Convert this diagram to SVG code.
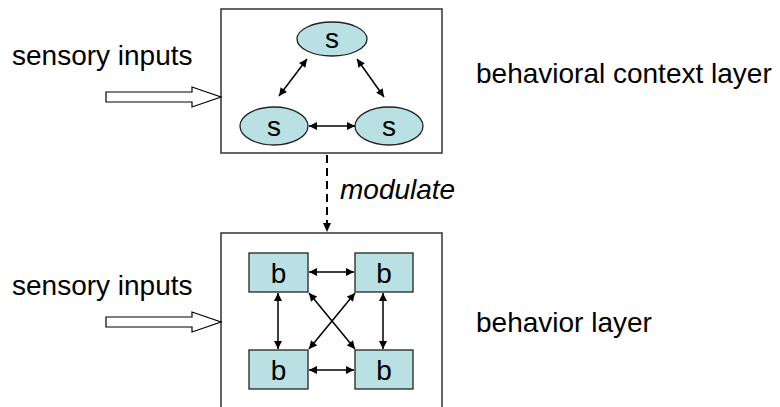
<svg xmlns="http://www.w3.org/2000/svg" width="780" height="407" viewBox="0 0 780 407">
<defs>
<marker id="ah" viewBox="0 0 10 10" refX="10" refY="5" markerWidth="9" markerHeight="8" markerUnits="userSpaceOnUse" orient="auto-start-reverse">
<path d="M0,0 L10,5 L0,10 z" fill="#000"/>
</marker>
<style>
.lbl{font-family:"Liberation Sans",Arial,sans-serif;font-size:28px;fill:#000}
.box{fill:#fff;stroke:#333;stroke-width:1.5}
.node{fill:#B9E0E3;stroke:#222;stroke-width:1.3}
.conn{stroke:#000;stroke-width:1.5;fill:none;marker-start:url(#ah);marker-end:url(#ah)}
.blk{fill:#fff;stroke:#000;stroke-width:1.2}
</style>
</defs>
<rect width="780" height="407" fill="#fff"/>
<g id="context-layer">
<rect class="box" x="221" y="9" width="221" height="144"/>
</g>
<g id="behavior-layer">
<rect class="box" x="221" y="233" width="221" height="190"/>
</g>
<g id="s-top"><ellipse class="node" cx="332" cy="39" rx="35" ry="17"/><text class="lbl" x="332" y="48" text-anchor="middle">s</text></g>
<g id="s-left"><ellipse class="node" cx="274" cy="126" rx="34" ry="19"/><text class="lbl" x="274" y="136" text-anchor="middle">s</text></g>
<g id="s-right"><ellipse class="node" cx="389" cy="126" rx="34" ry="19"/><text class="lbl" x="389" y="136" text-anchor="middle">s</text></g>
<g id="b-tl"><rect class="node" x="249" y="253" width="59" height="39"/><text class="lbl" x="278.5" y="283" text-anchor="middle">b</text></g>
<g id="b-tr"><rect class="node" x="355" y="253" width="58" height="39"/><text class="lbl" x="384" y="283" text-anchor="middle">b</text></g>
<g id="b-bl"><rect class="node" x="249" y="350" width="59" height="39"/><text class="lbl" x="278.5" y="380" text-anchor="middle">b</text></g>
<g id="b-br"><rect class="node" x="355" y="350" width="58" height="39"/><text class="lbl" x="384" y="380" text-anchor="middle">b</text></g>
<g id="connectors">
<line class="conn" x1="307" y1="59" x2="279" y2="96"/>
<line class="conn" x1="357" y1="59" x2="384" y2="97"/>
<line class="conn" x1="309" y1="126" x2="355" y2="126"/>
<line class="conn" x1="309" y1="272" x2="354" y2="272"/>
<line class="conn" x1="309" y1="370" x2="354" y2="370"/>
<line class="conn" x1="278" y1="293" x2="278" y2="349"/>
<line class="conn" x1="383" y1="293" x2="383" y2="349"/>
<line class="conn" x1="309" y1="293" x2="355" y2="349"/>
<line class="conn" x1="355" y1="293" x2="309" y2="349"/>
<line x1="327" y1="155" x2="327" y2="224" stroke="#000" stroke-width="2" stroke-dasharray="8,5"/>
<path d="M323,223 L331,223 L327,232 z" fill="#000"/>
<path class="blk" d="M106,92 L192,92 L192,87 L221,97 L192,107 L192,102 L106,102 z"/>
<path class="blk" d="M106,317 L192,317 L192,312 L221,322 L192,332 L192,327 L106,327 z"/>
</g>
<text class="lbl" x="12" y="65">sensory inputs</text>
<text class="lbl" x="12" y="295">sensory inputs</text>
<text class="lbl" x="476" y="83">behavioral context layer</text>
<text class="lbl" x="476" y="332">behavior layer</text>
<text class="lbl" x="340" y="199" font-style="italic">modulate</text>
</svg>
